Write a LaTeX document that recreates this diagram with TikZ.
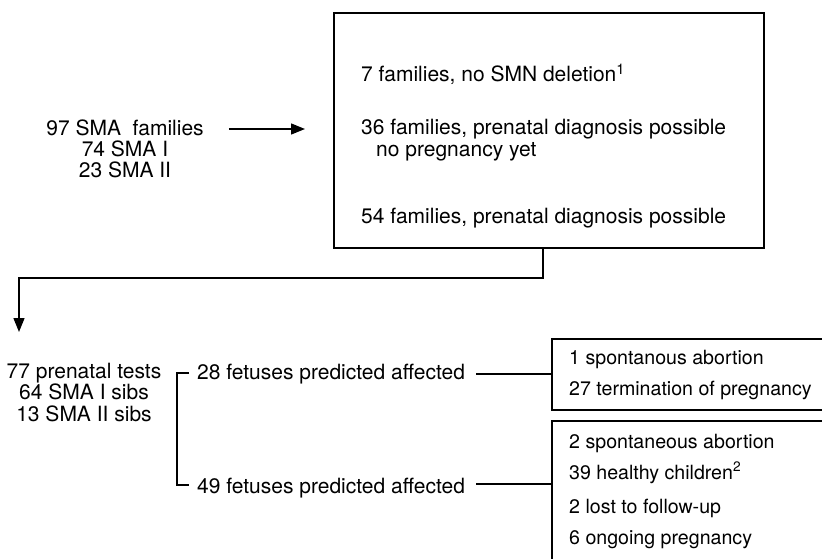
\documentclass[tikz,border=0pt]{standalone}
\usepackage{fontspec}
\setmainfont{TeX Gyre Heros}
\usetikzlibrary{arrows.meta,positioning,calc}
\tikzset{
  lbl/.style={font=\fontsize{21}{21.5}\selectfont, inner sep=0pt, align=center},
  item/.style={font=\fontsize{21}{21.5}\selectfont, inner sep=0pt, anchor=base west},
  outitem/.style={item, font=\fontsize{19.6}{21.5}\selectfont},
  frame/.style={draw, line width=1.6pt, inner sep=0pt, anchor=north west},
  ln/.style={line width=1.4pt},
  ar/.style={ln, -{Triangle[length=14pt,width=11pt]}},
}

\begin{document}
\begin{tikzpicture}[x=1pt,y=-1pt]
\clip (0,0) rectangle (822,559);
% --- families
\node[lbl,anchor=base] (src) at (125,178) {97 SMA\ \ families\\74 SMA I\\23 SMA II};
\node[frame,minimum width=430pt,minimum height=235pt] (famBox) at (333,12) {};
\node[item] (f7) at (361,82) {7 families, no SMN deletion\textsuperscript{1}};
\node[item] (f36) at (361,135) {36 families, prenatal diagnosis possible};
\node[item] (f36b) at (376,157) {no pregnancy yet};
\node[item] (f54) at (361,223) {54 families, prenatal diagnosis possible};
\draw[ar] ($(src.east |- f36.base)+(25,-6)$) -- ($(famBox.west |- f36.base)+(-28,-6)$);

% --- prenatal tests
\coordinate (turn) at (19,278);
\coordinate (drop) at (19,332);
\draw[ar] ($(famBox.south west)+(210,0)$) |- (turn) -- (drop);
\node[lbl,anchor=base] (tests) at (84,421) {77 prenatal tests\\64 SMA I sibs\\13 SMA II sibs};
\node[item] (f28) at (197,379) {28 fetuses predicted affected};
\node[item] (f49) at (197,493) {49 fetuses predicted affected};
\draw[ln] ($(f28.base west)+(-8,-6)$) -- ++(-12,0) |- ($(f49.base west)+(-8,-8)$);

% --- outcomes
\node[frame,minimum width=320pt,minimum height=71pt] (out28) at (551,338) {};
\node[frame,minimum width=320pt,minimum height=200pt] (out49) at (551,420) {};
\node[outitem] (o1) at (569,364) {1 spontanous abortion};
\node[outitem] (o2) at (569,395) {27 termination of pregnancy};
\node[outitem] (o3) at (569,448) {2 spontaneous abortion};
\node[outitem] (o4) at (569,479) {39 healthy children\textsuperscript{2}};
\node[outitem] (o5) at (569,513) {2 lost to follow-up};
\node[outitem] (o6) at (569,544) {6 ongoing pregnancy};
\draw[ln] ($(f28.base east)+(11,-5)$) -- ($(out28.west |- f28.base)+(0,-5)$);
\draw[ln] ($(f49.base east)+(11,-9)$) -- ($(out49.west |- f49.base)+(0,-9)$);
\end{tikzpicture}
\end{document}
